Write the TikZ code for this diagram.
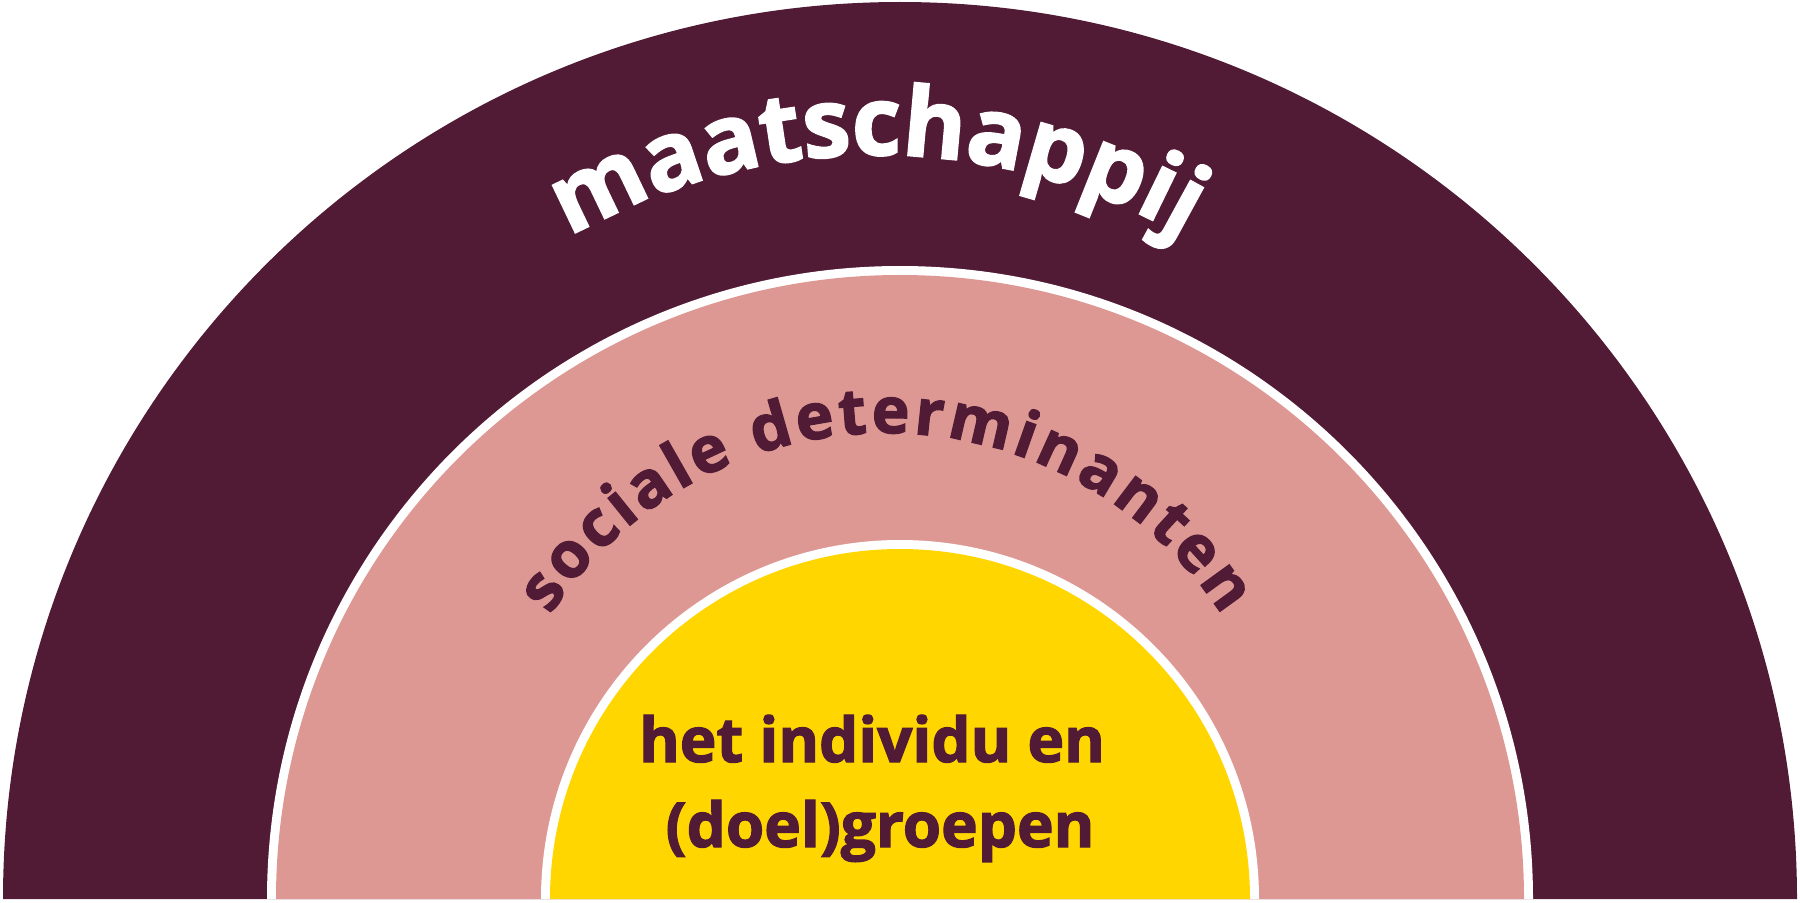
\documentclass[tikz,border=0pt]{standalone}
\usepackage{fontspec}
\setmainfont{Open Sans}[BoldFeatures={FakeBold=2}]
\usetikzlibrary{calc}
\definecolor{plum}{HTML}{511A35}
\definecolor{rose}{HTML}{DD9894}
\definecolor{sun}{HTML}{FFD600}
\newcommand\fontOuter{\fontsize{48}{58}\selectfont\bfseries}
\newcommand\fontMid{\fontsize{32}{38}\selectfont\bfseries}
\newcommand\fontIn{\fontsize{31}{42}\selectfont\bfseries}
\newlength\chw
% measure glyph widths outside the picture: #1 tag, #2 font, #3 characters
\newcommand\measureword[3]{%
  \foreach[count=\i] \ch in {#3} {%
    \settowidth{\chw}{#2\ch}%
    \expandafter\xdef\csname w#1\i\endcsname{\the\chw}%
  }%
}
% #1 tag, #2 centre, #3 radius (units), #4 start angle, #5 end angle, #6 node style, #7 characters
\newcommand\arcword[7]{%
  \gdef\arcTot{0}\gdef\arcCnt{0}%
  \foreach[count=\i] \ch in {#7} {%
    \pgfmathsetmacro\tmpT{\arcTot+\csname w#1\i\endcsname}\xdef\arcTot{\tmpT}%
    \xdef\arcCnt{\i}%
  }%
  \pgfmathsetmacro\arcLen{(#4-#5)/57.29578*#3*0.5}%
  \pgfmathsetmacro\arcGap{(\arcLen-\arcTot)/(\arcCnt-1)}%
  \gdef\arcPos{0}%
  \foreach[count=\i] \ch in {#7} {%
    \pgfmathsetmacro\chwid{\csname w#1\i\endcsname}%
    \pgfmathsetmacro\arcAng{#4-(\arcPos+\chwid/2)/(#3*0.5)*57.29578}%
    \node[letter, #6, rotate=\arcAng-90] at ($(#2)+(\arcAng:#3)$) {\ch};
    \pgfmathsetmacro\tmpP{\arcPos+\chwid+\arcGap}\xdef\arcPos{\tmpP}%
  }%
}
\begin{document}
\measureword{A}{\fontOuter}{m,a,a,t,s,c,h,a,p,p,i,j}%
\measureword{B}{\fontMid}{s,o,c,i,a,l,e,~,d,e,t,e,r,m,i,n,a,n,t,e,n}%
\begin{tikzpicture}[x=0.5pt,y=0.5pt,
  letter/.style={anchor=base, inner sep=0pt, outer sep=0pt},
  outerword/.style={font=\fontOuter, text=white},
  midword/.style={font=\fontMid, text=plum},
  innerlabel/.style={anchor=base, text=plum, font=\fontIn, inner sep=0pt}]
\useasboundingbox (0,0) rectangle (1800,902);
% rings
\fill[plum] (3,3) arc[start angle=180,end angle=0,radius=897] -- cycle;
\fill[white] (267,3) arc[start angle=180,end angle=0,radius=633] -- cycle;
\fill[rose] (276,3) arc[start angle=180,end angle=0,radius=624] -- cycle;
\fill[white] (541,3) arc[start angle=180,end angle=0,radius=359] -- cycle;
\fill[sun] (550,3) arc[start angle=180,end angle=0,radius=350] -- cycle;
% curved labels
\coordinate (cOuter) at (877,132);
\coordinate (cMid) at (886,68);
\arcword{A}{cOuter}{615}{120}{60}{outerword}{m,a,a,t,s,c,h,a,p,p,i,j}
\arcword{B}{cMid}{401}{146.9}{33}{midword}{s,o,c,i,a,l,e,~,d,e,t,e,r,m,i,n,a,n,t,e,n}
% inner label
\node[innerlabel] (l1) at (872,140) {het individu en};
\node[innerlabel] (l2) at (880,55) {(doel)groepen};
\end{tikzpicture}
\end{document}
